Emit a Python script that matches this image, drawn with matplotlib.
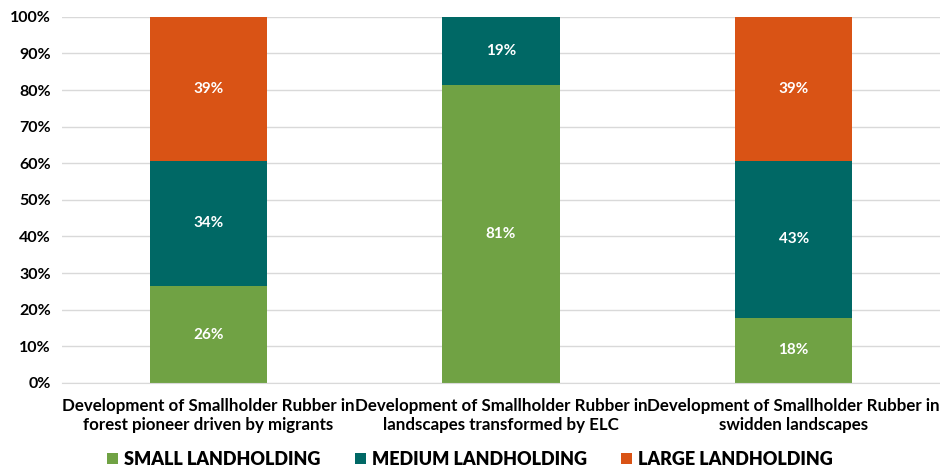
import matplotlib.pyplot as plt
import numpy as np
from matplotlib.ticker import PercentFormatter

plt.rcParams['font.family'] = ['Lato', 'DejaVu Sans']

categories = ['Development of Smallholder Rubber in\nforest pioneer driven by migrants',
              'Development of Smallholder Rubber in\nlandscapes transformed by ELC',
              'Development of Smallholder Rubber in\nswidden landscapes']
small = [26.4, 81.4, 17.8]
medium = [34.3, 18.6, 42.9]
large = [39.3, 0.0, 39.3]
series = ['SMALL LANDHOLDING', 'MEDIUM LANDHOLDING', 'LARGE LANDHOLDING']
colors = ['#70A244', '#006865', '#D95315']

fig = plt.figure(figsize=(9.4, 4.68), dpi=100)
ax = fig.add_axes([0.066, 0.182, 0.934, 0.782])

x = np.arange(len(categories))
bottom = np.zeros(len(categories))
for vals, name, c in zip([small, medium, large], series, colors):
    vals = np.array(vals)
    bars = ax.bar(x, vals, 0.4, bottom=bottom, color=c, label=name, zorder=2)
    for xi, b, v in zip(x, bottom, vals):
        if v > 0:
            ax.text(xi, b + v / 2, f'{v:.0f}%', ha='center', va='center',
                    color='white', fontsize=11, fontweight='bold')
    bottom += vals

ax.set_xlim(-0.5, 2.5)
ax.set_ylim(0, 100)
ax.set_yticks(np.arange(0, 101, 10))
ax.yaxis.set_major_formatter(PercentFormatter(decimals=0))
ax.grid(axis='y', color='#d9d9d9', linewidth=1, zorder=0)
for s in ['top', 'right', 'left']:
    ax.spines[s].set_visible(False)
ax.spines['bottom'].set_color('#d9d9d9')
ax.tick_params(length=0)
ax.tick_params(axis='y', labelsize=11.5, pad=8)
ax.set_xticks(x)
ax.set_xticklabels(categories, fontsize=12.2, fontweight='bold', linespacing=1.2)
ax.tick_params(axis='x', pad=11)
for lbl in ax.get_yticklabels():
    lbl.set_fontweight('bold')

fig.legend(loc='lower center', bbox_to_anchor=(0.5, -0.035), ncol=3, frameon=False,
           prop={'size': 13, 'weight': 'heavy'}, handlelength=0.6, handleheight=0.6,
           columnspacing=1.9, handletextpad=0.35)

plt.savefig('out.png', dpi=100)
